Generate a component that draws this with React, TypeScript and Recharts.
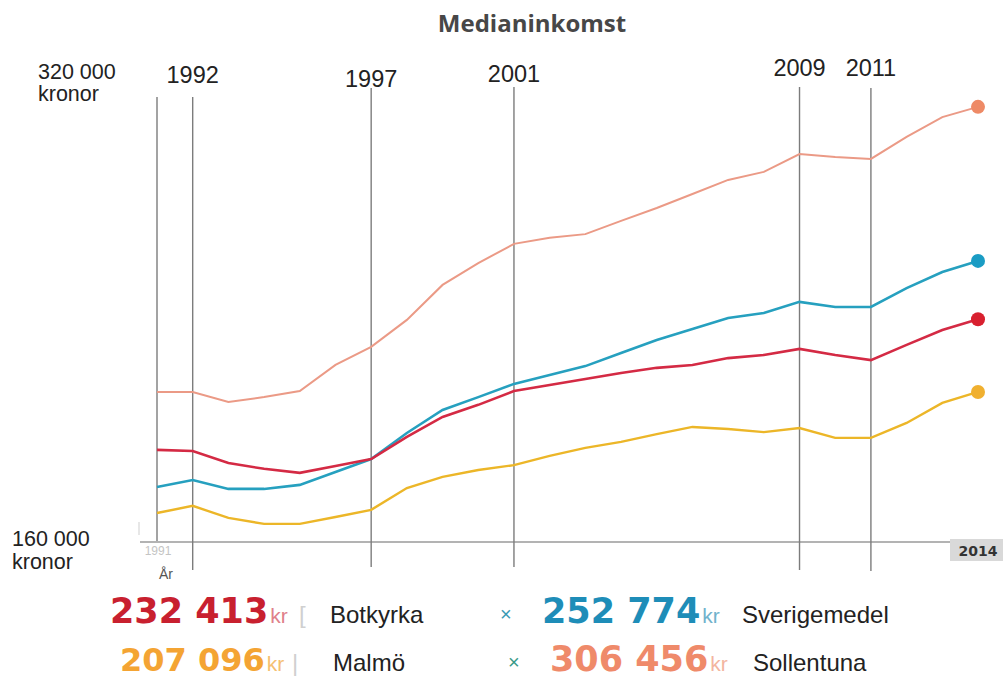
import { LineChart, Line, XAxis, YAxis, ReferenceLine } from 'recharts';

// Medianinkomst 1991-2014, kronor
const years = [
  1991, 1992, 1993, 1994, 1995, 1996, 1997, 1998, 1999, 2000, 2001, 2002,
  2003, 2004, 2005, 2006, 2007, 2008, 2009, 2010, 2011, 2012, 2013, 2014,
];
const sollentuna = [
  207100, 207100, 203600, 205300, 207400, 216500, 222800, 232200, 244400, 252000, 258700, 260800,
  262100, 266700, 271200, 276100, 281000, 283800, 290000, 289000, 288300, 296000, 302900, 306456,
];
const sverigemedel = [
  174000, 176400, 173300, 173300, 174700, 179200, 183700, 192800, 200800, 205300, 209900, 213000,
  216100, 220700, 225200, 229000, 232900, 234600, 238500, 236700, 236700, 243300, 248900, 252774,
];
const botkyrka = [
  186900, 186500, 182300, 180300, 178900, 181300, 183700, 191400, 198400, 202600, 207400, 209500,
  211600, 213700, 215500, 216500, 218900, 220000, 222100, 220000, 218200, 223500, 228700, 232413,
];
const malmo = [
  164900, 167400, 163200, 161100, 161100, 163500, 166000, 173600, 177500, 179900, 181600, 184800,
  187600, 189700, 192400, 194900, 194200, 193100, 194500, 191100, 191100, 196300, 203300, 207096,
];

const markedYears = [1991, 1992, 1997, 2001, 2009, 2011];
const axisTicks = [1991, 2014];
const yMin = 154800;
const yMax = 320000;

const chartData = years.map((year, i) => ({
  year,
  sollentuna: sollentuna[i],
  sverigemedel: sverigemedel[i],
  botkyrka: botkyrka[i],
  malmo: malmo[i],
}));

const series = [
  { key: 'sollentuna', color: '#eb9a86', dot: '#ee8a66', width: 2 },
  { key: 'sverigemedel', color: '#26a0bf', dot: '#1a9cc4', width: 2.6 },
  { key: 'botkyrka', color: '#d42a44', dot: '#d8202f', width: 2.6 },
  { key: 'malmo', color: '#ecb628', dot: '#f0b030', width: 2.4 },
];

// layout of the year guides (top / bottom in px, label baseline)
const guideLayout: Record<number, { top: number; bottom: number; labelY?: number }> = {
  1991: { top: 97, bottom: 541 },
  1992: { top: 97, bottom: 570, labelY: 83 },
  1997: { top: 88, bottom: 567, labelY: 87 },
  2001: { top: 87, bottom: 567, labelY: 82 },
  2009: { top: 87, bottom: 570, labelY: 76 },
  2011: { top: 88, bottom: 571, labelY: 76 },
};

const fmt = (v: number) => String(v).replace(/\B(?=(\d{3})+(?!\d))/g, ' ');
const last = (arr: number[]) => arr[arr.length - 1];

const guideShape = (year: number) => (props: any) => {
  const g = guideLayout[year];
  return (
    <g>
      <line x1={props.x1} x2={props.x1} y1={g.top} y2={g.bottom} stroke="#7c7c7c" strokeWidth={1.4} />
      {g.labelY && (
        <text
          x={props.x1}
          y={g.labelY}
          textAnchor="middle"
          fontFamily="Liberation Sans, Arial, sans-serif"
          fontSize={23.5}
          fill="#222"
        >
          {year}
        </text>
      )}
    </g>
  );
};

const baseShape = (props: any) => (
  <line x1={props.x1 - 17} x2={950} y1={props.y1} y2={props.y1} stroke="#9a9a9a" strokeWidth={1.5} />
);

const AxisTick = (props: any) => {
  const { x, payload } = props;
  if (payload.value === 2014) {
    return (
      <g>
        <rect x={x - 28} y={539} width={60} height={22} fill="#d9d9d9" />
        <text x={x} y={556} textAnchor="middle" fontFamily="DejaVu Sans" fontWeight="bold" fontSize={14} fill="#333">
          2014
        </text>
      </g>
    );
  }
  return (
    <g>
      <line x1={x - 18} x2={x - 18} y1={522} y2={535} stroke="#cfcfcf" strokeWidth={1} />
      <text x={x + 1} y={555} textAnchor="middle" fontFamily="Liberation Sans" fontSize={12} fill="#c4c4c4">
        {payload.value}
      </text>
      <text x={x + 9} y={579} textAnchor="middle" fontFamily="Liberation Sans" fontSize={14} fill="#555">
        År
      </text>
    </g>
  );
};

const endDot = (color: string) => (p: any) => {
  if (p.index !== years.length - 1) return <g key={`d-${p.index}`} />;
  return <circle key={`d-${p.index}`} cx={p.cx} cy={p.cy} r={7} fill={color} stroke="none" />;
};

const numFont = 'DejaVu Sans, sans-serif';
const txtFont = 'Liberation Sans, Arial, sans-serif';

const LegendItem = ({ x, y, value, color, krColor, label, labelX, size = 35 }: any) => (
  <g>
    <text x={x} y={y} fontFamily={numFont} fontWeight="bold" fontSize={size} fill={color}>
      {fmt(value)}
      <tspan fontFamily={txtFont} fontWeight="normal" fontSize={21} fill={krColor} dx={2}>
        kr
      </tspan>
    </text>
    <text x={labelX} y={y} fontFamily={txtFont} fontSize={24} fill="#222">
      {label}
    </text>
  </g>
);

export default function App() {
  return (
    <div style={{ position: 'absolute', left: 0, top: 0, width: 1003, height: 679, background: '#fff' }}>
      <LineChart
        width={1003}
        height={679}
        data={chartData}
        margin={{ top: 68, right: 25, bottom: 107, left: 157 }}
      >
        <XAxis
          dataKey="year"
          type="number"
          domain={[1991, 2014]}
          ticks={axisTicks}
          interval={0}
          height={30}
          axisLine={false}
          tickLine={false}
          tick={<AxisTick />}
        />
        <YAxis hide type="number" domain={[yMin, yMax]} />
        <ReferenceLine y={yMin} ifOverflow="visible" shape={baseShape} />
        {markedYears.map((yr) => (
          <ReferenceLine key={yr} x={yr} ifOverflow="visible" shape={guideShape(yr)} />
        ))}
        {series.map((s) => (
          <Line
            key={s.key}
            type="linear"
            dataKey={s.key}
            stroke={s.color}
            strokeWidth={s.width}
            dot={endDot(s.dot)}
            activeDot={false}
            isAnimationActive={false}
          />
        ))}
      </LineChart>
      <svg
        width={1003}
        height={679}
        style={{ position: 'absolute', left: 0, top: 0, pointerEvents: 'none' }}
      >
        <text x={532} y={32} textAnchor="middle" fontFamily="Open Sans, sans-serif" fontWeight="bold" fontSize={24} fill="#474747">
          Medianinkomst
        </text>
        <text fontFamily={txtFont} fontSize={21.5} fill="#222">
          <tspan x={38} y={79}>320 000</tspan>
          <tspan x={38} y={101}>kronor</tspan>
          <tspan x={12} y={546}>160 000</tspan>
          <tspan x={12} y={569}>kronor</tspan>
        </text>

        <LegendItem x={110} y={623} value={last(botkyrka)} color="#c8202f" krColor="#e0808a" label="Botkyrka" labelX={330} />
        <text x={299} y={623} fontFamily={txtFont} fontSize={24} fill="#d0d0d0">[</text>
        <text x={500} y={621} fontFamily={txtFont} fontSize={20} fill="#3a9ab5">×</text>
        <LegendItem x={542} y={623} value={last(sverigemedel)} color="#1e8db8" krColor="#70b2cc" label="Sverigemedel" labelX={742} />

        <LegendItem x={120} y={671} size={32} value={last(malmo)} color="#f4a433" krColor="#f5c070" label="Malmö" labelX={333} />
        <text x={292} y={671} fontFamily={txtFont} fontSize={24} fill="#d0d0d0">|</text>
        <text x={508} y={669} fontFamily={txtFont} fontSize={20} fill="#3a9a8a">×</text>
        <LegendItem x={550} y={671} value={last(sollentuna)} color="#ef8a6a" krColor="#f3b5a0" label="Sollentuna" labelX={753} />
      </svg>
    </div>
  );
}
